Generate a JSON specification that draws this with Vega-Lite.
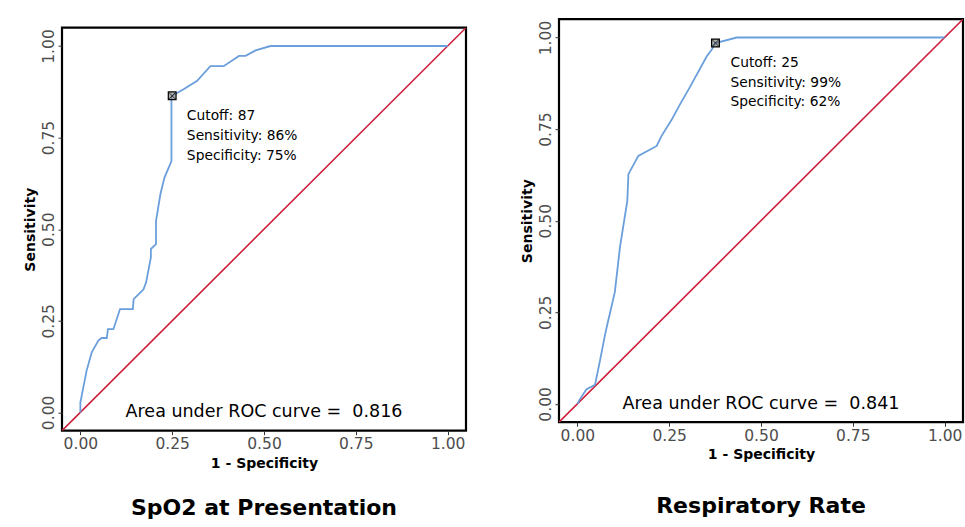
{
  "$schema": "https://vega.github.io/schema/vega-lite/v6.json",
  "background": "white",
  "padding": {"left": 21, "top": 18, "right": 2, "bottom": 0},
  "spacing": 50,
  "center": true,
  "datasets": {
    "diag": [{"fpr": -0.05, "sens": -0.05}, {"fpr": 1.05, "sens": 1.05}],
    "roc_spo2": [
      {"fpr": 0, "sens": 0}, {"fpr": 0, "sens": 0.027}, {"fpr": 0.017, "sens": 0.114}, {"fpr": 0.031, "sens": 0.164},
      {"fpr": 0.049, "sens": 0.196}, {"fpr": 0.058, "sens": 0.203}, {"fpr": 0.072, "sens": 0.203}, {"fpr": 0.075, "sens": 0.227},
      {"fpr": 0.09, "sens": 0.227}, {"fpr": 0.108, "sens": 0.282}, {"fpr": 0.143, "sens": 0.282}, {"fpr": 0.145, "sens": 0.309},
      {"fpr": 0.172, "sens": 0.336}, {"fpr": 0.179, "sens": 0.355}, {"fpr": 0.192, "sens": 0.423}, {"fpr": 0.192, "sens": 0.446},
      {"fpr": 0.206, "sens": 0.459}, {"fpr": 0.206, "sens": 0.523}, {"fpr": 0.218, "sens": 0.596}, {"fpr": 0.229, "sens": 0.641},
      {"fpr": 0.248, "sens": 0.686}, {"fpr": 0.248, "sens": 0.859}, {"fpr": 0.25, "sens": 0.864}, {"fpr": 0.281, "sens": 0.882},
      {"fpr": 0.318, "sens": 0.905}, {"fpr": 0.354, "sens": 0.945}, {"fpr": 0.39, "sens": 0.945}, {"fpr": 0.432, "sens": 0.973},
      {"fpr": 0.45, "sens": 0.973}, {"fpr": 0.477, "sens": 0.988}, {"fpr": 0.518, "sens": 1.0}, {"fpr": 1.0, "sens": 1.0}
    ],
    "roc_rr": [
      {"fpr": 0, "sens": 0}, {"fpr": 0.007, "sens": 0.013}, {"fpr": 0.025, "sens": 0.04}, {"fpr": 0.048, "sens": 0.052},
      {"fpr": 0.062, "sens": 0.12}, {"fpr": 0.075, "sens": 0.187}, {"fpr": 0.08, "sens": 0.21}, {"fpr": 0.102, "sens": 0.305},
      {"fpr": 0.116, "sens": 0.428}, {"fpr": 0.136, "sens": 0.554}, {"fpr": 0.139, "sens": 0.627}, {"fpr": 0.166, "sens": 0.677},
      {"fpr": 0.216, "sens": 0.704}, {"fpr": 0.229, "sens": 0.731}, {"fpr": 0.257, "sens": 0.776}, {"fpr": 0.279, "sens": 0.817},
      {"fpr": 0.306, "sens": 0.864}, {"fpr": 0.352, "sens": 0.948}, {"fpr": 0.366, "sens": 0.967}, {"fpr": 0.376, "sens": 0.985},
      {"fpr": 0.434, "sens": 1.0}, {"fpr": 1.0, "sens": 1.0}
    ],
    "cut_spo2": [{"fpr": 0.25, "sens": 0.864}],
    "cut_rr": [{"fpr": 0.376, "sens": 0.985}],
    "lab_spo2": [
      {"fpr": 0.29, "sens": 0.809, "label": "Cutoff: 87"},
      {"fpr": 0.29, "sens": 0.755, "label": "Sensitivity: 86%"},
      {"fpr": 0.29, "sens": 0.700, "label": "Specificity: 75%"}
    ],
    "lab_rr": [
      {"fpr": 0.417, "sens": 0.930, "label": "Cutoff: 25"},
      {"fpr": 0.417, "sens": 0.876, "label": "Sensitivity: 99%"},
      {"fpr": 0.417, "sens": 0.823, "label": "Specificity: 62%"}
    ],
    "auc_spo2": [{"fpr": 0.5, "sens": 0.0, "label": "Area under ROC curve =\u00a0 0.816"}],
    "auc_rr": [{"fpr": 0.5, "sens": 0.0, "label": "Area under ROC curve =\u00a0 0.841"}]
  },
  "hconcat": [
    {
      "width": 404,
      "height": 403,
      "title": {"text": "SpO2 at Presentation", "orient": "bottom", "font": "DejaVu Sans", "fontSize": 22, "fontWeight": "bold", "color": "black", "offset": 28},
      "encoding": {
        "x": {"field": "fpr", "type": "quantitative", "scale": {"domain": [-0.05, 1.05], "nice": false, "zero": false}, "axis": {"title": "1 - Specificity", "values": [0, 0.25, 0.5, 0.75, 1], "format": ".2f"}},
        "y": {"field": "sens", "type": "quantitative", "scale": {"domain": [-0.05, 1.05], "nice": false, "zero": false}, "axis": {"title": "Sensitivity", "values": [0, 0.25, 0.5, 0.75, 1], "format": ".2f"}}
      },
      "layer": [
        {"data": {"name": "diag"}, "mark": {"type": "line", "color": "#cc1f3c", "strokeWidth": 1.6, "clip": true}},
        {"data": {"name": "roc_spo2"}, "mark": {"type": "line", "color": "#6a9fdc", "strokeWidth": 1.8}, "encoding": {"order": {"value": 0}}},
        {"data": {"name": "cut_spo2"}, "mark": {"type": "point", "shape": "square", "size": 60, "filled": false, "stroke": "black", "strokeWidth": 1.2, "fill": "#777", "fillOpacity": 0.6}},
        {"data": {"name": "cut_spo2"}, "mark": {"type": "point", "shape": "M-1,-1L1,1M-1,1L1,-1", "size": 40, "filled": false, "stroke": "black", "strokeWidth": 1}},
        {"data": {"name": "lab_spo2"}, "mark": {"type": "text", "align": "left", "baseline": "middle", "font": "DejaVu Sans", "fontSize": 13.8, "color": "black"}, "encoding": {"text": {"field": "label"}}},
        {"data": {"name": "auc_spo2"}, "mark": {"type": "text", "align": "center", "baseline": "middle", "font": "DejaVu Sans", "fontSize": 17.5, "color": "black"}, "encoding": {"text": {"field": "label"}}}
      ]
    },
    {
      "width": 404,
      "height": 403,
      "title": {"text": "Respiratory Rate", "subtitle": "x", "subtitleColor": "white", "subtitleFontSize": 8, "subtitlePadding": 2, "orient": "bottom", "font": "DejaVu Sans", "fontSize": 22, "fontWeight": "bold", "color": "black", "offset": 34},
      "encoding": {
        "x": {"field": "fpr", "type": "quantitative", "scale": {"domain": [-0.05, 1.05], "nice": false, "zero": false}, "axis": {"title": "1 - Specificity", "values": [0, 0.25, 0.5, 0.75, 1], "format": ".2f"}},
        "y": {"field": "sens", "type": "quantitative", "scale": {"domain": [-0.05, 1.05], "nice": false, "zero": false}, "axis": {"title": "Sensitivity", "values": [0, 0.25, 0.5, 0.75, 1], "format": ".2f"}}
      },
      "layer": [
        {"data": {"name": "diag"}, "mark": {"type": "line", "color": "#cc1f3c", "strokeWidth": 1.6, "clip": true}},
        {"data": {"name": "roc_rr"}, "mark": {"type": "line", "color": "#6a9fdc", "strokeWidth": 1.8}, "encoding": {"order": {"value": 0}}},
        {"data": {"name": "cut_rr"}, "mark": {"type": "point", "shape": "square", "size": 60, "filled": false, "stroke": "black", "strokeWidth": 1.2, "fill": "#777", "fillOpacity": 0.6}},
        {"data": {"name": "cut_rr"}, "mark": {"type": "point", "shape": "M-1,-1L1,1M-1,1L1,-1", "size": 40, "filled": false, "stroke": "black", "strokeWidth": 1}},
        {"data": {"name": "lab_rr"}, "mark": {"type": "text", "align": "left", "baseline": "middle", "font": "DejaVu Sans", "fontSize": 13.8, "color": "black"}, "encoding": {"text": {"field": "label"}}},
        {"data": {"name": "auc_rr"}, "mark": {"type": "text", "align": "center", "baseline": "middle", "font": "DejaVu Sans", "fontSize": 17.5, "color": "black"}, "encoding": {"text": {"field": "label"}}}
      ]
    }
  ],
  "config": {
    "view": {"stroke": "black", "strokeWidth": 2.2},
    "axis": {
      "grid": false,
      "domain": false,
      "ticks": true,
      "tickColor": "#333333",
      "tickSize": 4,
      "tickWidth": 1,
      "labelFont": "DejaVu Sans",
      "labelFontSize": 15.5,
      "labelColor": "#4d4d4d",
      "labelPadding": 2,
      "titleFont": "DejaVu Sans",
      "titleFontSize": 14,
      "titleFontWeight": "bold",
      "titleColor": "black"
    },
    "axisX": {"titlePadding": 4, "labelFlush": false},
    "axisY": {"labelAngle": -90, "labelAlign": "center", "labelBaseline": "bottom", "titlePadding": 4, "labelFlush": false}
  }
}
